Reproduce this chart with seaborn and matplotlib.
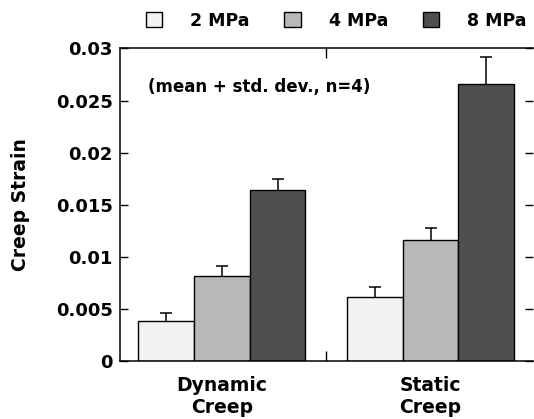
import numpy as np
import pandas as pd
import matplotlib
matplotlib.use("Agg")
import matplotlib.pyplot as plt
import seaborn as sns
from matplotlib.ticker import FixedLocator

# values
tests = ["Dynamic\nCreep", "Static\nCreep"]
stresses = ["2 MPa", "4 MPa", "8 MPa"]
mean_2mpa = [0.0039, 0.0062]
mean_4mpa = [0.0082, 0.0116]
mean_8mpa = [0.0164, 0.0266]
sd_2mpa = [0.0007, 0.0009]
sd_4mpa = [0.0009, 0.0012]
sd_8mpa = [0.0011, 0.0026]
yticks = [0, 0.005, 0.01, 0.015, 0.02, 0.025, 0.03]
ytick_labels = ["0", "0.005", "0.01", "0.015", "0.02", "0.025", "0.03"]
bar_colors = ["#f2f2f2", "#b8b8b8", "#4f4f4f"]

df = pd.DataFrame({
    "test": tests * 3,
    "stress": np.repeat(stresses, 2),
    "strain": mean_2mpa + mean_4mpa + mean_8mpa,
})

sns.set_style("ticks")
plt.rcParams["font.family"] = ["DejaVu Sans"]
plt.rcParams["font.weight"] = "bold"
plt.rcParams["axes.labelweight"] = "bold"
for key in ["text.color", "axes.labelcolor", "xtick.color", "ytick.color",
            "axes.edgecolor"]:
    plt.rcParams[key] = "black"

fig = plt.figure(figsize=(5.34, 4.19), dpi=100)
ax = fig.add_axes([0.224, 0.138, 0.774, 0.7465])

sns.barplot(data=df, x="test", y="strain", hue="stress", order=tests,
            hue_order=stresses, palette=bar_colors, saturation=1,
            edgecolor="black", linewidth=1, errorbar=None, width=0.8,
            zorder=2, ax=ax)

# mean + std. dev.: lower half of the whisker sits behind the opaque bar
for cont, sd in zip(ax.containers, [sd_2mpa, sd_4mpa, sd_8mpa]):
    xs = [p.get_x() + p.get_width() / 2 for p in cont.patches]
    ys = [p.get_height() for p in cont.patches]
    ax.errorbar(xs, ys, yerr=sd, fmt="none", ecolor="black",
                elinewidth=1.1, capsize=4, capthick=1.1, zorder=1)

ax.set_xlim(-0.49, 1.49)
ax.set_ylim(0, 0.03)
ax.set_yticks(yticks)
ax.set_yticklabels(ytick_labels)
ax.xaxis.set_minor_locator(FixedLocator([0.5]))

ax.tick_params(axis="x", which="major", length=0, pad=11, labelsize=13.5)
ax.tick_params(axis="x", which="minor", direction="in", length=7,
               top=True, bottom=True, width=1)
ax.tick_params(axis="y", direction="in", length=6, left=True, right=True,
               pad=5, labelsize=13, width=1)
for s in ax.spines.values():
    s.set_linewidth(1.1)
    s.set_visible(True)
ax.spines["right"].set_visible(False)

ax.set_xlabel("")
ax.set_ylabel("Creep Strain", fontsize=13.5)
ax.yaxis.set_label_coords(-0.218, 0.5)

ax.text(0.069, 0.877, "(mean + std. dev., n=4)", transform=ax.transAxes,
        ha="left", va="center", fontsize=12)

handles, labels = ax.get_legend_handles_labels()
ax.legend(handles, labels, ncol=3, frameon=False, loc="center",
          bbox_to_anchor=(0.524, 1.088), fontsize=12.5,
          handlelength=0.95, handleheight=0.95, handletextpad=1.6,
          columnspacing=2.0, borderaxespad=0)

fig.savefig("out.png", dpi=100)
